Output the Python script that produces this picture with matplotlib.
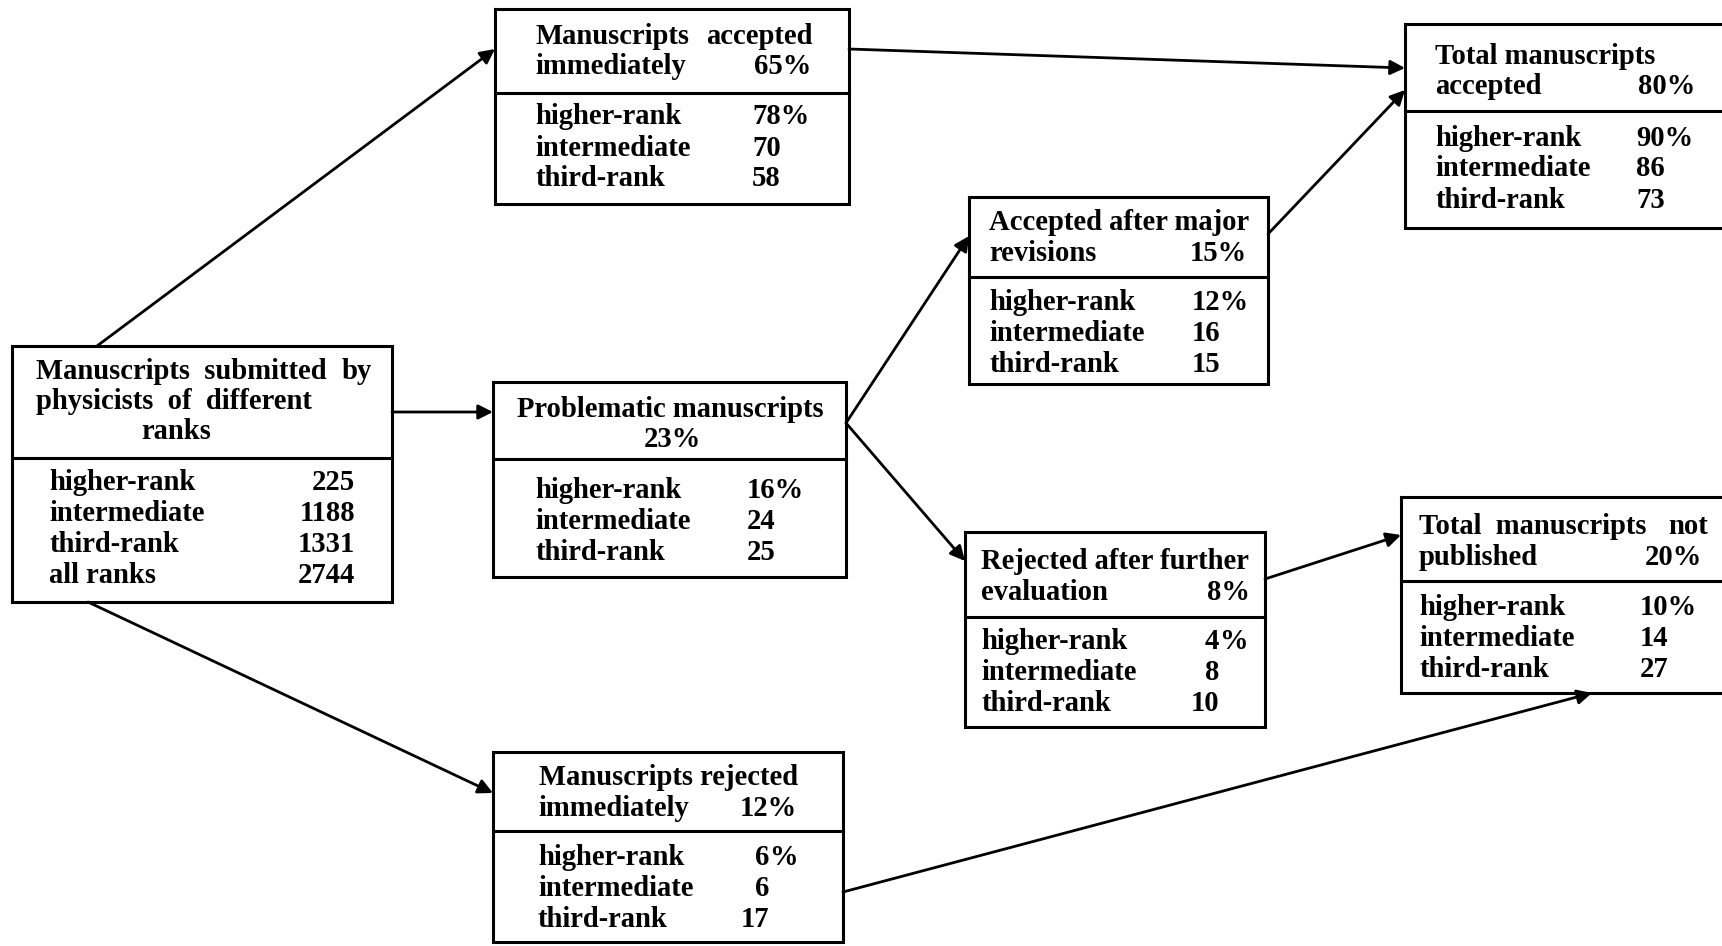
import matplotlib.pyplot as plt

# 各ボックスのデータ
rank_labels = ["higher-rank", "intermediate", "third-rank"]

submitted_labels = ["higher-rank", "intermediate", "third-rank", "all ranks"]
submitted_counts = [225, 1188, 1331, 2744]

accepted_now = [78, 70, 58]          # Manuscripts accepted immediately 65%
problematic = [16, 24, 25]           # Problematic manuscripts 23%
rejected_now = [6, 6, 17]            # Manuscripts rejected immediately 12%
accepted_major = [12, 16, 15]        # Accepted after major revisions 15%
rejected_further = [4, 8, 10]        # Rejected after further evaluation 8%
total_accepted = [90, 86, 73]        # Total manuscripts accepted 80%
total_not_pub = [10, 14, 27]         # Total manuscripts not published 20%

share_accepted_now = 65
share_problematic = 23
share_rejected_now = 12
share_accepted_major = 15
share_rejected_further = 8
share_total_accepted = 80
share_total_not_pub = 20

FONT = dict(family="Liberation Serif", fontweight="bold", fontsize=20.6, color="black")
LH = 31  # line height (px)

fig = plt.figure(figsize=(17.22, 9.46), dpi=100)
ax = fig.add_axes([0, 0, 1, 1])
ax.set_xlim(0, 1722)
ax.set_ylim(946, 0)
ax.axis("off")


def box(x0, y0, x1, y1, ydiv):
    ax.plot([x0, x1, x1, x0, x0], [y0, y0, y1, y1, y0], color="black", lw=2.2,
            solid_joinstyle="miter", clip_on=False)
    ax.plot([x0, x1], [ydiv, ydiv], color="black", lw=2.2)


def txt(x, y, s, ha="left"):
    ax.text(x, y, s, ha=ha, va="center", **FONT)


def pct_rows(x_lab, x_val, y_first, vals, align="left"):
    for i, (lab, v) in enumerate(zip(rank_labels, vals)):
        y = y_first + i * LH
        txt(x_lab, y, lab)
        if align == "left":
            txt(x_val, y, f"{v}%" if i == 0 else f"{v}")
        else:
            # 数字の右端をそろえる
            txt(x_val, y, f"{v}", ha="right")
            if i == 0:
                txt(x_val, y, "%")


def arrow(p, q):
    ax.annotate("", xy=q, xytext=p,
                arrowprops=dict(arrowstyle="-|>", color="black", lw=2.0,
                                mutation_scale=22, shrinkA=0, shrinkB=0))


# 1. 投稿原稿
box(12, 346, 392, 602, 458)
txt(36, 371, "Manuscripts  submitted")
txt(372, 371, "by", ha="right")
txt(36, 401, "physicists  of  different")
txt(176, 431, "ranks", ha="center")
for i, (lab, n) in enumerate(zip(submitted_labels, submitted_counts)):
    txt(49, 482 + i * LH, lab)
    txt(355, 482 + i * LH, str(n), ha="right")

# 2. 即時採択
box(495, 9, 849, 204, 93)
txt(535, 36, "Manuscripts")
txt(813, 36, "accepted", ha="right")
txt(535, 67, "immediately")
txt(811, 67, f"{share_accepted_now}%", ha="right")
pct_rows(535, 752, 117, accepted_now)

# 3. 問題あり
box(493, 382, 846, 577, 459)
txt(670, 409, "Problematic manuscripts", ha="center")
txt(672, 439, f"{share_problematic}%", ha="center")
pct_rows(535, 747, 490, problematic)

# 4. 即時不採択
box(493, 752, 843, 942, 831)
txt(669, 777, "Manuscripts rejected", ha="center")
txt(538, 808, "immediately")
txt(797, 808, f"{share_rejected_now}%", ha="right")
pct_rows(538, 769, 857, rejected_now, align="right")

# 5. 大幅改訂後採択
box(969, 197, 1268, 384, 277)
txt(989, 222, "Accepted after major")
txt(989, 253, "revisions")
txt(1247, 253, f"{share_accepted_major}%", ha="right")
pct_rows(989, 1192, 302, accepted_major)

# 6. 追加評価後不採択
box(965, 532, 1265, 727, 617)
txt(981, 561, "Rejected after further")
txt(981, 592, "evaluation")
txt(1250, 592, f"{share_rejected_further}%", ha="right")
pct_rows(981, 1219, 641, rejected_further, align="right")

# 7. 採択合計
box(1405, 24, 1730, 228, 111)
txt(1435, 56, "Total manuscripts")
txt(1435, 87, "accepted")
txt(1695, 87, f"{share_total_accepted}%", ha="right")
pct_rows(1435, 1636, 138, total_accepted)

# 8. 不掲載合計
box(1401, 497, 1730, 693, 581)
txt(1419, 526, "Total  manuscripts")
txt(1708, 526, "not", ha="right")
txt(1419, 557, "published")
txt(1702, 557, f"{share_total_not_pub}%", ha="right")
pct_rows(1419, 1640, 607, total_not_pub)

# 矢印
arrow((97, 346), (495, 49))
arrow((392, 412), (493, 412))
arrow((88, 602), (493, 793))
arrow((849, 49), (1405, 68))
arrow((846, 423), (969, 236))
arrow((846, 423), (965, 561))
arrow((1268, 234), (1405, 90))
arrow((1265, 579), (1401, 535))
arrow((843, 892), (1592, 693))

plt.savefig("out.png", dpi=100)
